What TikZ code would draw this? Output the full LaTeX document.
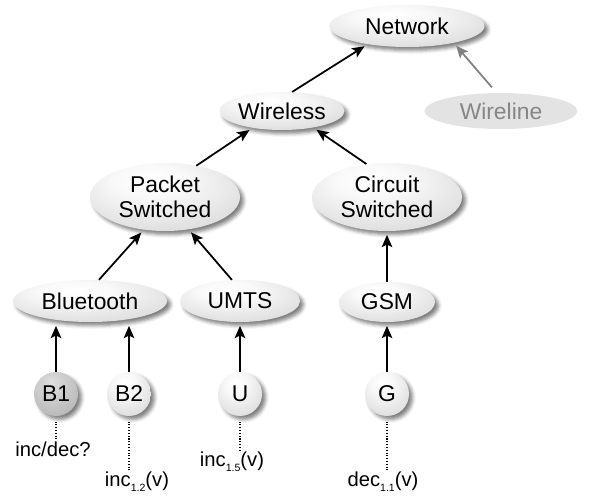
\documentclass[tikz,border=0pt]{standalone}
\usepackage{xcolor}
\usepackage{fontspec}
\setmainfont{Liberation Sans}
\usetikzlibrary{shapes.geometric,arrows.meta,shadows.blur}

\pgfdeclareradialshading{lightball}{\pgfpoint{-6bp}{14bp}}{color(0bp)=(white); color(12bp)=(gray!5); color(50bp)=(gray!42); color(70bp)=(gray!58)}
\pgfdeclareradialshading{darkball}{\pgfpoint{-6bp}{14bp}}{color(0bp)=(gray!25); color(50bp)=(gray!70); color(70bp)=(gray!82)}

\begin{document}
\begin{tikzpicture}[x=0.02cm,y=-0.02cm]
      \tikzset{cat/.style={ellipse,shading=lightball,inner sep=0pt,align=center,
        blur shadow={shadow xshift=2pt,shadow yshift=-2pt,shadow blur radius=2pt,shadow opacity=50},
        font=\fontsize{13}{14}\selectfont}}
      \tikzset{leaf/.style={circle,shading=lightball,inner sep=0pt,minimum size=0.88cm,
        blur shadow={shadow xshift=2pt,shadow yshift=-2pt,shadow blur radius=2pt,shadow opacity=50},
        font=\fontsize{13}{14}\selectfont}}
      \tikzset{dleaf/.style={leaf,shading=darkball}}
      \tikzset{faded/.style={ellipse,fill=gray!22,text=gray!95!white,inner sep=0pt,font=\fontsize{13}{14}\selectfont}}
      \tikzset{tag/.style={inner sep=1pt,font=\fontsize{11.5}{13}\selectfont}}
      \tikzset{arr/.style={draw,line width=1pt,-{Stealth[length=7pt,width=6pt,inset=1.5pt]},shorten >=2pt}}
      \tikzset{farr/.style={arr,draw=gray}}
      \tikzset{dots/.style={draw,line width=0.6pt,densely dotted,shorten <=3pt}}
      \def\sub#1{\raisebox{-0.45ex}{\fontsize{6}{6}\selectfont #1}}

      \useasboundingbox (0,0) rectangle (595,500);

      % top of the hierarchy
      \node[cat,minimum width=3.1cm,minimum height=0.84cm] (net) at (407,26) {Network};
      \node[faded,minimum width=3.06cm,minimum height=0.72cm] (wline) at (501,111) {Wireline};
      \node[cat,minimum width=2.5cm,minimum height=0.76cm] (wless) at (282,111) {Wireless};
      \node[cat,minimum width=3.0cm,minimum height=1.36cm] (pkt) at (165,197) {Packet\\Switched};
      \node[cat,minimum width=3.0cm,minimum height=1.36cm] (circ) at (387,197) {Circuit\\Switched};

      % technologies
      \node[cat,minimum width=3.08cm,minimum height=0.84cm] (blue) at (90,301) {Bluetooth};
      \node[cat,minimum width=2.4cm,minimum height=0.84cm] (umts) at (240,301) {UMTS};
      \node[cat,minimum width=1.92cm,minimum height=0.8cm] (gsm) at (387,302) {GSM};

      % devices
      \node[dleaf] (b1) at (56,394) {B1};
      \node[leaf] (b2) at (129,394) {B2};
      \node[leaf] (u) at (240,394) {U};
      \node[leaf] (g) at (387,394) {G};

      \node[tag] (lb1) at (53,449) {inc/dec?};
      \node[tag] (lb2) at (137,482) {inc\sub{1.2}(v)};
      \node[tag] (lu) at (232,462) {inc\sub{1.5}(v)};
      \node[tag] (lg) at (383,482) {dec\sub{1.1}(v)};

      \draw[arr] (wless.62) -- (net.205);
      \draw[farr,shorten <=4pt] (wline.104) -- (net.-20);
      \draw[arr] (pkt.45) -- (wless.210);
      \draw[arr] (circ.122) -- (wless.-28);
      \draw[arr] (blue.67) -- (pkt.237);
      \draw[arr] (umts.111) -- (pkt.-54);
      \draw[arr] (gsm) -- (circ);
      \draw[arr] (b1) -- (b1 |- blue.south);
      \draw[arr] (b2) -- (b2 |- blue.south);
      \draw[arr] (u) -- (umts);
      \draw[arr] (g) -- (gsm);

      \draw[dots] (b1.south) -- (b1 |- lb1.north);
      \draw[dots] (b2.south) -- (b2 |- lb2.north);
      \draw[dots] (u.south) -- (u |- lu.north);
      \draw[dots] (g.south) -- (g |- lg.north);
\end{tikzpicture}
\end{document}
